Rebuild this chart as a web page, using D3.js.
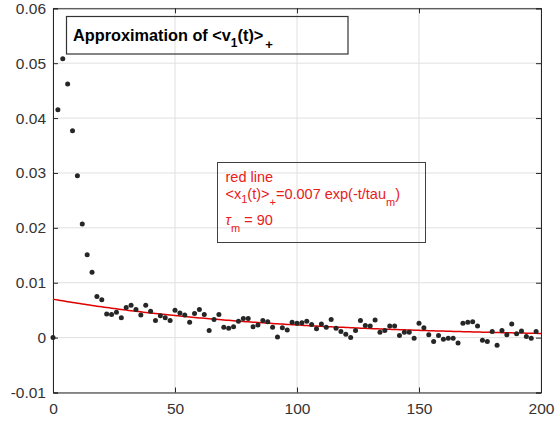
<!DOCTYPE html>
<html><head><meta charset="utf-8">
<script src="https://cdn.jsdelivr.net/npm/d3@7/dist/d3.min.js"></script>
<style>body{margin:0;background:#fff}svg{display:block}</style>
</head><body>
<svg id="c" width="555" height="423"></svg>
<script>
const tValues = d3.range(0, 200, 2);
const yValues = [
 0.0000,0.0415,0.0508,0.0462,0.0377,0.0295,0.0207,0.0151,0.0119,0.0075,
 0.0069,0.0043,0.0042,0.0046,0.0036,0.0055,0.0059,0.0051,0.0041,0.0059,
 0.0048,0.0031,0.0040,0.0036,0.0031,0.0050,0.0045,0.0041,0.0028,0.0044,
 0.0051,0.0042,0.0013,0.0033,0.0042,0.0019,0.0017,0.0020,0.0030,0.0035,
 0.0035,0.0020,0.0023,0.0031,0.0029,0.0019,0.0001,0.0018,0.0014,0.0028,
 0.0026,0.0027,0.0030,0.0024,0.0016,0.0025,0.0019,0.0033,0.0017,0.0011,
 0.0006,0.0000,0.0013,0.0031,0.0022,0.0021,0.0032,0.0010,0.0013,0.0021,
 0.0021,0.0004,0.0010,0.0010,-0.0001,0.0026,0.0018,0.0005,-0.0007,0.0004,
 -0.0003,-0.0001,-0.0001,-0.0010,0.0026,0.0028,0.0029,0.0021,-0.0005,-0.0007,
 0.0011,-0.0014,0.0013,0.0005,0.0025,0.0007,0.0012,0.0002,-0.0001,0.0011
];
const xTicks = [0, 50, 100, 150, 200];
const yTicks = [-0.01, 0, 0.01, 0.02, 0.03, 0.04, 0.05, 0.06];
const yTickLabels = ["-0.01", "0", "0.01", "0.02", "0.03", "0.04", "0.05", "0.06"];
const fitA = 0.007, fitTau = 90;
const fitT = d3.range(0, 201, 1);

const svg = d3.select("#c");
const L = 53, R = 541, T = 8.3, B = 392.5;
const x = d3.scaleLinear().domain([0, 200]).range([L, R]);
const y = d3.scaleLinear().domain([-0.01, 0.06]).range([B, T]);
const axisCol = "#262626";
const font = "'Liberation Sans', Arial, Helvetica, sans-serif";

// grid
const g = svg.append("g");
g.selectAll(".gx").data(xTicks).enter().append("line")
  .attr("x1", d => x(d)).attr("x2", d => x(d)).attr("y1", T).attr("y2", B)
  .attr("stroke", "#e0e0e0").attr("stroke-width", 1);
g.selectAll(".gy").data(yTicks).enter().append("line")
  .attr("y1", d => y(d)).attr("y2", d => y(d)).attr("x1", L).attr("x2", R)
  .attr("stroke", "#e0e0e0").attr("stroke-width", 1);

// axes (MATLAB style, inward ticks on all sides)
const tl = -5;
const axL = d3.axisLeft(y).tickValues(yTicks).tickSize(tl).tickPadding(7)
  .tickFormat((d, i) => yTickLabels[i]);
const axR = d3.axisRight(y).tickValues(yTicks).tickSize(tl).tickFormat("");
const axB = d3.axisBottom(x).tickValues(xTicks).tickSize(tl).tickPadding(10);
const axT = d3.axisTop(x).tickValues(xTicks).tickSize(tl).tickFormat("");
function style(sel){
  sel.select(".domain").attr("stroke", axisCol).attr("stroke-width", 1);
  sel.selectAll(".tick line").attr("stroke", axisCol);
  sel.selectAll("text").attr("fill", "#333").style("font-family", font).style("font-size", "15.5px");
}
svg.append("g").attr("transform", `translate(${L},0)`).call(axL).call(style);
svg.append("g").attr("transform", `translate(${R},0)`).call(axR).call(style);
svg.append("g").attr("transform", `translate(0,${B})`).call(axB).call(style);
svg.append("g").attr("transform", `translate(0,${T})`).call(axT).call(style);

// fit line
const line = d3.line().x(d => x(d)).y(d => y(fitA * Math.exp(-d / fitTau)));
svg.append("path").datum(fitT).attr("d", line).attr("fill", "none")
  .attr("stroke", "#e00000").attr("stroke-width", 1.5);

// points
svg.selectAll(".pt").data(tValues).enter().append("circle")
  .attr("cx", d => x(d)).attr("cy", (d, i) => y(yValues[i])).attr("r", 2.5)
  .attr("fill", "#262626");

// title box (transparent, like a MATLAB annotation)
svg.append("rect").attr("x", 66.5).attr("y", 16.5).attr("width", 281.5).attr("height", 37.5)
  .attr("fill", "none").attr("stroke", "#333").attr("stroke-width", 1.2);
const tt = svg.append("text").attr("x", 73).attr("y", 40.5).attr("fill", "#000")
  .style("font-family", font).style("font-size", "16.3px").style("font-weight", "bold");
tt.append("tspan").text("Approximation of <v");
tt.append("tspan").attr("dy", 6).style("font-size", "12px").text("1");
tt.append("tspan").attr("dy", -6).text("(t)>");
tt.append("tspan").attr("dx", 2).attr("dy", 8).style("font-size", "13px").text("+");

// annotation box
svg.append("rect").attr("x", 217.5).attr("y", 162.5).attr("width", 208).attr("height", 80)
  .attr("fill", "none").attr("stroke", "#404040").attr("stroke-width", 1);
const red = "#e8201a";
const at = svg.append("g").style("font-family", font).style("font-size", "14.5px").attr("fill", red);
at.append("text").attr("x", 225.5).attr("y", 182).text("red line");
const l2 = at.append("text").attr("x", 225.5).attr("y", 199);
l2.append("tspan").text("<x");
l2.append("tspan").attr("dy", 4).style("font-size", "11px").text("1");
l2.append("tspan").attr("dy", -4).text("(t)>");
l2.append("tspan").attr("dy", 7).style("font-size", "11px").text("+");
l2.append("tspan").attr("dy", -7).text("=0.007 exp(-t/tau");
l2.append("tspan").attr("dy", 7).style("font-size", "11px").text("m");
l2.append("tspan").attr("dy", -7).text(")");
const l3 = at.append("text").attr("x", 225.5).attr("y", 225);
l3.append("tspan").style("font-style", "italic").text("τ");
l3.append("tspan").attr("dy", 7).style("font-size", "11px").text("m");
l3.append("tspan").attr("dy", -7).text(" = 90");
</script>
</body></html>
